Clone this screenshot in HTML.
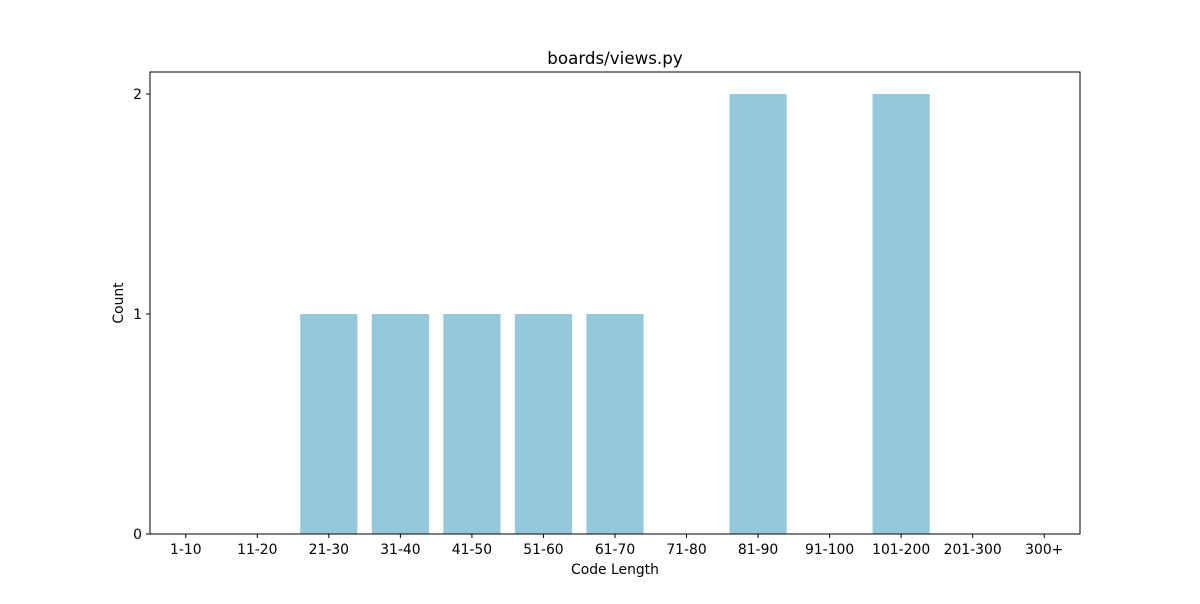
<!DOCTYPE html>
<html><head><meta charset="utf-8"><style>
body{margin:0;background:#fff;font-family:"DejaVu Sans","Liberation Sans",sans-serif}
</style></head><body>
<svg id="c" width="1200" height="600" xmlns="http://www.w3.org/2000/svg" font-family="DejaVu Sans, Liberation Sans, sans-serif"></svg>
<script>
const categories=["1-10","11-20","21-30","31-40","41-50","51-60","61-70","71-80","81-90","91-100","101-200","201-300","300+"];
const counts=[0,0,1,1,1,1,1,0,2,0,2,0,0];
const yTicks=[0,1,2];
const L=150,R=1080,T=72,B=534;
const xs=i=>L+(i+0.5)*(R-L)/categories.length;
const ys=v=>B-(v/2.1)*(B-T);
const svg=document.getElementById('c');
const ns="http://www.w3.org/2000/svg";
function mk(t,a,txt){const e=document.createElementNS(ns,t);for(const k in a)e.setAttribute(k,a[k]);if(txt!=null)e.textContent=txt;svg.appendChild(e);return e;}
const bw=0.8*(R-L)/categories.length;
counts.forEach((v,i)=>{
 const r=mk('rect',{x:xs(i)-bw/2,y:ys(v),width:bw,height:B-ys(v),fill:'#96c8dc'});
 
 
});
const f=mk('rect',{x:L,y:T,width:R-L,height:B-T,fill:'none',stroke:'#000','stroke-width':1});


categories.forEach((c,i)=>{
 mk('line',{x1:xs(i),x2:xs(i),y1:B,y2:B+4,stroke:'#000'});
 const t=mk('text',{x:xs(i),y:B+20,'text-anchor':'middle','font-size':13.9},c);
 
 
});
yTicks.forEach(v=>{
 mk('line',{x1:L-4,x2:L,y1:ys(v),y2:ys(v),stroke:'#000'});
 const t=mk('text',{x:L-8,y:ys(v)+5,'text-anchor':'end','font-size':13.9},v);
 
 
});
const ti=mk('text',{x:(L+R)/2,y:64,'text-anchor':'middle','font-size':16.7},'boards/views.py');


const xt=mk('text',{x:(L+R)/2,y:574,'text-anchor':'middle','font-size':13.9},'Code Length');


const yt=mk('text',{x:0,y:0,'text-anchor':'middle','font-size':13.9,transform:'translate(123,'+((T+B)/2)+') rotate(-90)'},'Count');


</script>
</body></html>
